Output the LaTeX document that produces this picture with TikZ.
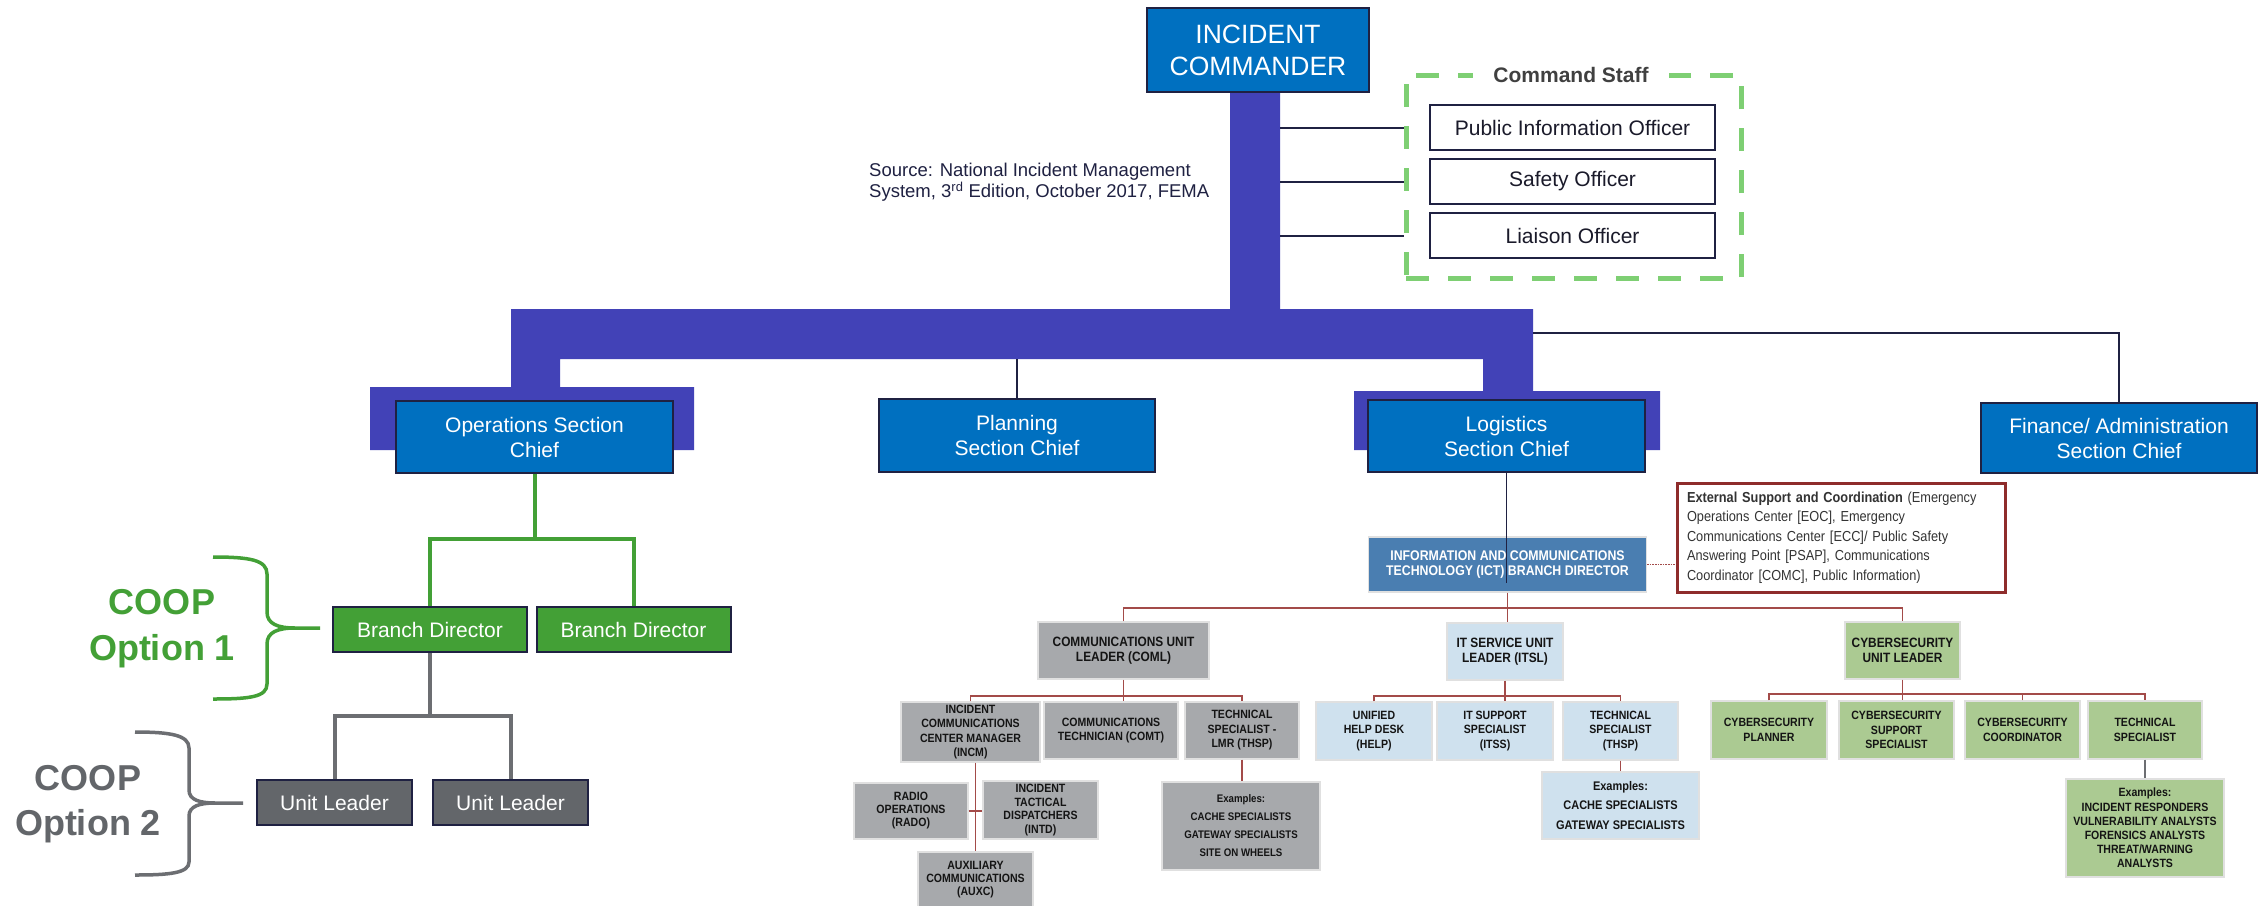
\documentclass[tikz,border=0pt]{standalone}
\usepackage{fontspec}
\setmainfont{Liberation Sans}
\newfontfamily\condfont{Liberation Sans}[FakeStretch=0.88]
\usetikzlibrary{calc}

\definecolor{chiefblue}{HTML}{0070C0}
\definecolor{barpurple}{HTML}{4242B7}
\definecolor{navyline}{HTML}{1F2142}
\definecolor{staffgreen}{HTML}{7ECF73}
\definecolor{branchgreen}{HTML}{43A036}
\definecolor{unitgray}{HTML}{63666A}
\definecolor{graylink}{HTML}{6C6E72}
\definecolor{ictblue}{HTML}{4A7EB1}
\definecolor{comlgray}{HTML}{A7A9AC}
\definecolor{itblue}{HTML}{CFE1EE}
\definecolor{cybergreen}{HTML}{ABCA92}
\definecolor{linkred}{HTML}{A34B49}
\definecolor{extred}{HTML}{8E2C2B}
\definecolor{stafftitle}{HTML}{404040}
\definecolor{smalltext}{HTML}{141414}
\definecolor{officertext}{HTML}{1A1A2A}

\tikzset{
  chief/.style={draw=navyline, line width=2, fill=chiefblue, text=white, align=center,
    inner sep=0, font=\fontsize{21}{25}\selectfont},
  officer/.style={draw=navyline, line width=2.5, fill=white, text=officertext, inner sep=0,
    minimum width=285, minimum height=45, font=\fontsize{21}{25}\selectfont},
  branchbox/.style={draw=navyline, line width=2, fill=branchgreen, text=white, inner sep=0,
    minimum width=194, minimum height=45, font=\fontsize{21}{25}\selectfont},
  unitbox/.style={draw=navyline, line width=2, fill=unitgray, text=white, inner sep=0,
    minimum width=155, minimum height=45, font=\fontsize{21}{25}\selectfont},
  lowbox/.style={draw=black!12, line width=1.2, inner sep=0, align=center, text=smalltext},
  leadfont/.style={font=\condfont\bfseries\fontsize{13.5}{15}\selectfont},
  rowfont/.style={font=\condfont\bfseries\fontsize{12}{14.5}\selectfont},
  graybox/.style={lowbox, fill=comlgray},
  bluebox/.style={lowbox, fill=itblue},
  greenbox/.style={lowbox, fill=cybergreen},
  navylink/.style={draw=navyline, line width=2},
  greenlink/.style={draw=branchgreen, line width=4},
  graylinkstyle/.style={draw=graylink, line width=4},
  redlink/.style={draw=linkred, line width=1.6},
}

\begin{document}
\begin{tikzpicture}[x=1pt, y=-1pt]
\useasboundingbox (0,0) rectangle (2265,905);
\fill[white] (0,0) rectangle (2265,905);

% purple command trunk and backing plates
\fill[barpurple] (1230,92) rectangle (1280,359)
  (511,309) rectangle (1533,359)
  (511,359) rectangle (560,387)
  (370,387) rectangle (694,450)
  (1483,359) rectangle (1533,391)
  (1354,391) rectangle (1660,450);

\coordinate (barR) at (1280,0);
\coordinate (hbarB) at (0,359);
\coordinate (finTap) at (1533,333);

% incident commander
\node[chief, minimum width=222, minimum height=84, font=\fontsize{26.5}{32}\selectfont]
  (ic) at (1258,50) {INCIDENT\\COMMANDER};

% source note
\node[anchor=west, align=left, inner sep=0, text=navyline, font=\fontsize{18.5}{21}\selectfont]
  (src) at (869,182.5) {Source: National Incident Management\\System, 3\textsuperscript{rd} Edition, October 2017, FEMA};

% command staff
\node[draw=staffgreen, line width=5, dash pattern=on 23pt off 19pt, inner sep=0,
  minimum width=335, minimum height=203] (staff) at (1573.5,176.5) {};
\node[fill=white, inner xsep=20, inner ysep=2, text=stafftitle,
  font=\bfseries\fontsize{21}{25}\selectfont] (stafft) at (1571,75) {Command Staff};
\node[officer] (pio) at (1572.5,127.5) {Public Information Officer};
\node[officer] (safety) at (1572.5,181.5) {Safety Officer};
\node[officer] (liaison) at (1572.5,235.5) {Liaison Officer};
\draw[navylink] (barR |- pio) -- (staff.west |- pio);
\draw[navylink] (barR |- safety) -- (staff.west |- safety);
\draw[navylink] (barR |- liaison) -- (staff.west |- liaison);

% section chiefs
\node[chief, minimum width=277, minimum height=72] (ops) at (534.5,437) {Operations Section\\Chief};
\node[chief, minimum width=276, minimum height=73] (plan) at (1017,435.5) {Planning\\Section Chief};
\node[chief, minimum width=277, minimum height=72] (log) at (1506.5,436) {Logistics\\Section Chief};
\node[chief, minimum width=276, minimum height=70] (fin) at (2119,438) {Finance/ Administration\\Section Chief};
\draw[navylink] (plan.north) -- (plan.north |- hbarB);
\draw[navylink] (finTap) -| (fin.north);

% operations: branches and units
\node[branchbox] (bd1) at (430,629.5) {Branch Director};
\node[branchbox] (bd2) at (633.5,629.5) {Branch Director};
\node[unitbox] (ul1) at (334.5,802.5) {Unit Leader};
\node[unitbox] (ul2) at (510.5,802.5) {Unit Leader};
\coordinate (obus) at (534.5,539);
\coordinate (ubus) at (430,716);
\draw[greenlink] (ops.south) -- (obus) (bd1.north) |- (obus) -| (bd2.north);
\draw[graylinkstyle] (bd1.south) -- (ubus) (ul1.north) |- (ubus) -| (ul2.north);

% COOP options
\draw[branchgreen, line width=3.5]
  (213,557) .. controls (250,557) and (267,560) .. (267,574) -- (267,612)
  .. controls (267,624) and (278,628) .. (295,628) -- (320,628);
\draw[branchgreen, line width=3.5]
  (295,628) .. controls (278,628) and (267,632) .. (267,644) -- (267,684)
  .. controls (267,697) and (250,699) .. (213,699);
\draw[graylink, line width=3.5]
  (135,732) .. controls (170,732) and (189,735) .. (189,748) -- (189,790)
  .. controls (189,800) and (200,803) .. (215,803) -- (243,803);
\draw[graylink, line width=3.5]
  (215,803) .. controls (200,803) and (189,806) .. (189,816) -- (189,862)
  .. controls (189,873) and (170,875) .. (135,875);
\node[align=center, inner sep=0, text=branchgreen, font=\bfseries\fontsize{36}{46}\selectfont]
  (coop1) at (162,629) {COOP\\Option 1};
\node[align=center, inner sep=0, text=unitgray, font=\bfseries\fontsize{36}{45}\selectfont]
  (coop2) at (88,804.5) {COOP\\Option 2};

% logistics: ICT branch
\node[lowbox, fill=ictblue, text=white, minimum width=278, minimum height=55,
  font=\condfont\bfseries\fontsize{14}{15.5}\selectfont]
  (ict) at (1507.5,564.5) {INFORMATION AND COMMUNICATIONS\\TECHNOLOGY (ICT) BRANCH DIRECTOR};
\coordinate (logEnd) at (1506.5,583);
\draw[navyline, line width=1.6] (log.south) -- (logEnd);

\node[draw=extred, line width=3, fill=white, inner xsep=10, inner ysep=0, text width=308,
  minimum width=328, minimum height=109, align=left, text=black!80,
  font=\condfont\fontsize{14.5}{19.5}\selectfont] (ext) at (1841,537.5)
  {\textbf{External Support and Coordination} (Emergency\\
   Operations Center [EOC], Emergency\\
   Communications Center [ECC]/ Public Safety\\
   Answering Point [PSAP], Communications\\
   Coordinator [COMC], Public Information)};
\draw[linkred, line width=1.6, densely dotted] (ict.east) -- (ict.east -| ext.west);

% unit leaders
\node[graybox, leadfont, minimum width=171, minimum height=57] (coml) at (1123.5,650.5)
  {COMMUNICATIONS UNIT\\LEADER (COML)};
\node[bluebox, leadfont, minimum width=116, minimum height=57] (itsl) at (1505,651.5)
  {IT SERVICE UNIT\\LEADER (ITSL)};
\node[greenbox, leadfont, minimum width=115, minimum height=57] (cyul) at (1902.5,650.5)
  {CYBERSECURITY\\UNIT LEADER};
\coordinate (rbus) at (1507.5,608);
\draw[redlink] (ict.south) -- (rbus) (coml.north) |- (rbus) -| (cyul.north)
  (rbus) -- (rbus |- itsl.north);

% communications unit
\node[graybox, rowfont, minimum width=139, minimum height=60] (incm) at (970.5,732)
  {INCIDENT\\COMMUNICATIONS\\CENTER MANAGER\\(INCM)};
\node[graybox, rowfont, minimum width=134, minimum height=57] (comt) at (1111,730.5)
  {COMMUNICATIONS\\TECHNICIAN (COMT)};
\node[graybox, rowfont, minimum width=114, minimum height=57] (thlmr) at (1242,730.5)
  {TECHNICAL\\SPECIALIST -\\LMR (THSP)};
\node[graybox, rowfont, font=\condfont\bfseries\fontsize{12}{13}\selectfont,
  minimum width=114, minimum height=56] (rado) at (911,811)
  {RADIO\\OPERATIONS\\(RADO)};
\node[graybox, rowfont, font=\condfont\bfseries\fontsize{12}{13.6}\selectfont,
  minimum width=115, minimum height=58] (intd) at (1040.5,810)
  {INCIDENT\\TACTICAL\\DISPATCHERS\\(INTD)};
\node[graybox, rowfont, font=\condfont\bfseries\fontsize{12}{13}\selectfont,
  minimum width=115, minimum height=56] (auxc) at (975.5,880)
  {AUXILIARY\\COMMUNICATIONS\\(AUXC)};
\node[graybox, font=\condfont\bfseries\fontsize{11}{18}\selectfont,
  minimum width=158, minimum height=88] (gex) at (1241,826)
  {Examples:\\CACHE SPECIALISTS\\GATEWAY SPECIALISTS\\SITE ON WHEELS};
\coordinate (cbus) at (1123.5,696);
\draw[redlink] (coml.south) -- (cbus) (incm.north) |- (cbus) -| (thlmr.north)
  (cbus) -- (cbus |- comt.north);
\draw[redlink] (auxc.north |- incm.south) -- (auxc.north);
\draw[redlink] (rado.east) -- (rado.east -| intd.west);
\draw[redlink] (thlmr.south) -- (thlmr.south |- gex.north);

% IT service unit
\node[bluebox, rowfont, minimum width=116, minimum height=58] (help) at (1374,731)
  {UNIFIED\\HELP DESK\\(HELP)};
\node[bluebox, rowfont, minimum width=116, minimum height=58] (itss) at (1495,731)
  {IT SUPPORT\\SPECIALIST\\(ITSS)};
\node[bluebox, rowfont, minimum width=115, minimum height=58] (thsp) at (1620.5,731)
  {TECHNICAL\\SPECIALIST\\(THSP)};
\node[bluebox, font=\condfont\bfseries\fontsize{12.5}{19.5}\selectfont,
  minimum width=157, minimum height=67] (tex) at (1620.5,805.5)
  {Examples:\\CACHE SPECIALISTS\\GATEWAY SPECIALISTS};
\coordinate (ibus) at (1505,696);
\draw[redlink] (itsl.south) -- (ibus) (help.north) |- (ibus) -| (thsp.north)
  (ibus) -- (ibus |- itss.north);
\draw[redlink] (thsp.south) -- (thsp.south |- tex.north);

% cybersecurity unit
\node[greenbox, rowfont, minimum width=116, minimum height=58] (cypl) at (1769,730)
  {CYBERSECURITY\\PLANNER};
\node[greenbox, rowfont, minimum width=115, minimum height=58] (cysup) at (1896.5,730)
  {CYBERSECURITY\\SUPPORT\\SPECIALIST};
\node[greenbox, rowfont, minimum width=115, minimum height=58] (cycoord) at (2022.5,730)
  {CYBERSECURITY\\COORDINATOR};
\node[greenbox, rowfont, minimum width=114, minimum height=58] (cytech) at (2145,730)
  {TECHNICAL\\SPECIALIST};
\node[greenbox, font=\condfont\bfseries\fontsize{12}{14.2}\selectfont,
  minimum width=158, minimum height=98] (cyex) at (2145,828)
  {Examples:\\INCIDENT RESPONDERS\\VULNERABILITY ANALYSTS\\FORENSICS ANALYSTS\\THREAT/WARNING\\ANALYSTS};
\coordinate (ybus) at (1902.5,694);
\draw[redlink] (cyul.south) -- (ybus) (cypl.north) |- (ybus) -| (cytech.north)
  (ybus) -- (ybus |- cysup.north) (cycoord.north) -- (cycoord.north |- ybus);
\draw[graylink, line width=1.6] (cytech.south) -- (cytech.south |- cyex.north);

\end{tikzpicture}
\end{document}
